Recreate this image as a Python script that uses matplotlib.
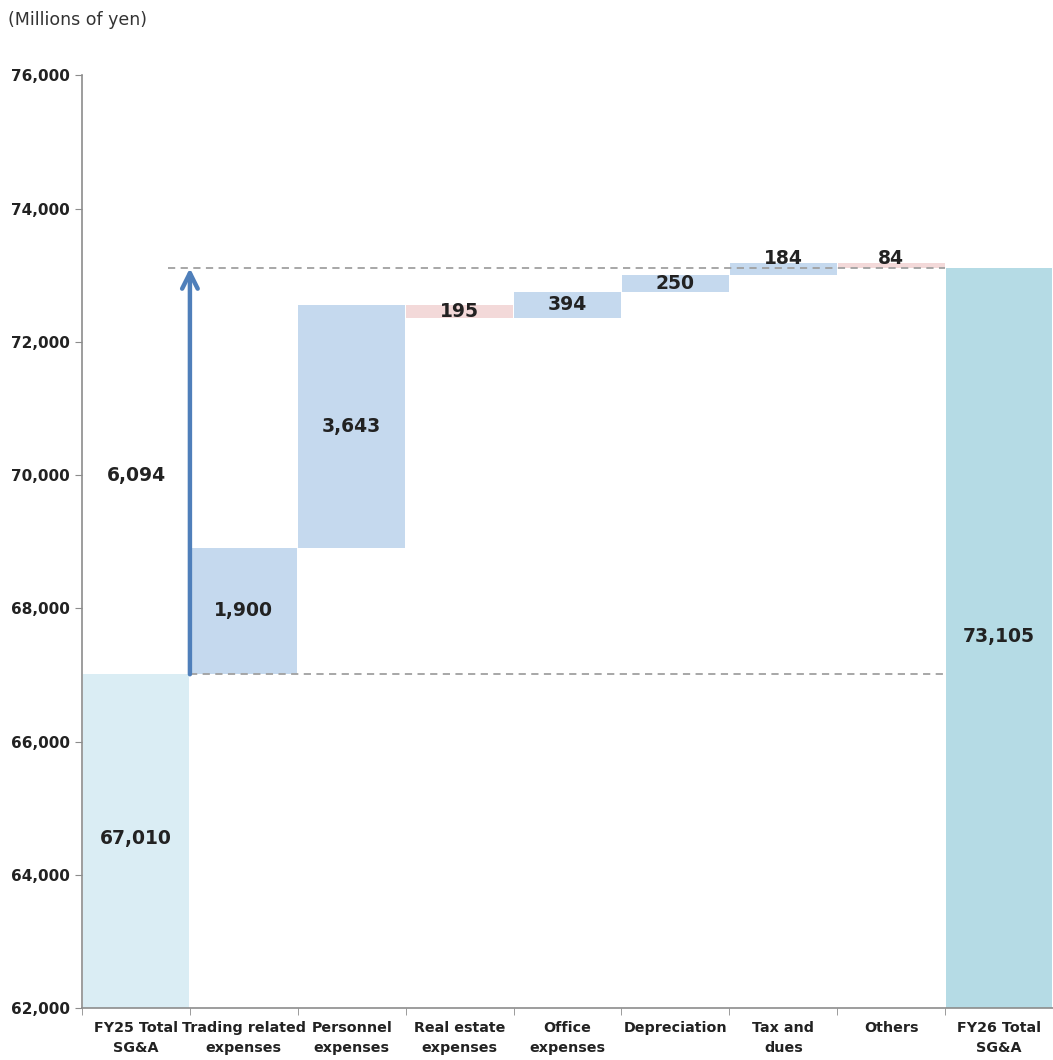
import numpy as np
import matplotlib.pyplot as plt
from matplotlib.ticker import FuncFormatter

# ---------------------------------------------------
# DATA
# ---------------------------------------------------
categories = ["FY25 Total\nSG&A", "Trading related\nexpenses", "Personnel\nexpenses",
              "Real estate\nexpenses", "Office\nexpenses", "Depreciation",
              "Tax and\ndues", "Others", "FY26 Total\nSG&A"]
start_total = 67010
changes = [1900, 3643, -195, 394, 250, 184, -84]
end_total = 73105
total_change = 6094

y_ticks = [62000, 64000, 66000, 68000, 70000, 72000, 74000, 76000]

# colours
c_start = "#daedf4"
c_end = "#b5dbe5"
c_up = "#c5d9ee"
c_down = "#f3d9d9"
c_arrow = "#4f7fba"
c_text = "#222222"

# ---------------------------------------------------
# WATERFALL GEOMETRY
# ---------------------------------------------------
bottoms = []
heights = []
colors = []
running = start_total
for ch in changes:
    if ch >= 0:
        bottoms.append(running)
        colors.append(c_up)
    else:
        bottoms.append(running + ch)
        colors.append(c_down)
    heights.append(abs(ch))
    running += ch

x = np.arange(len(categories))

fig = plt.figure(figsize=(10.53, 10.6), dpi=100)
ax = fig.add_axes([0.0779, 0.049, 0.9221, 0.880])

ax.bar(x[0], start_total - y_ticks[0], bottom=y_ticks[0], width=0.99, color=c_start)
ax.bar(x[1:-1], heights, bottom=bottoms, width=0.99, color=colors)
ax.bar(x[-1], end_total - y_ticks[0], bottom=y_ticks[0], width=0.99, color=c_end)

# dashed reference lines
ax.hlines(start_total, 0.5, 7.5, colors="#a0a0a0", linestyles=(0, (4, 3)), lw=1.3, zorder=3)
ax.hlines(end_total, 0.3, 7.5, colors="#a0a0a0", linestyles=(0, (4, 3)), lw=1.3, zorder=3)

# total change arrow
ax.annotate("", xy=(0.5, end_total), xytext=(0.5, start_total),
            arrowprops=dict(arrowstyle="->", color=c_arrow, lw=3.2,
                            mutation_scale=28, shrinkA=0, shrinkB=0), zorder=4)
ax.text(0.0, 70000, f"{total_change:,}", ha="center", va="center",
        fontsize=13.5, fontweight="bold", color=c_text)

# value labels
ax.text(x[0], 64550, f"{start_total:,}", ha="center", va="center",
        fontsize=13.5, fontweight="bold", color=c_text)
ax.text(x[-1], 67580, f"{end_total:,}", ha="center", va="center",
        fontsize=13.5, fontweight="bold", color=c_text)
for i, (b, h, ch) in enumerate(zip(bottoms, heights, changes)):
    y = b + h / 2
    if h < 190:
        y = b + h + 60   # tiny bars: label sits on top
    ax.text(x[i + 1], y, f"{abs(ch):,}", ha="center", va="center",
            fontsize=13.5, fontweight="bold", color=c_text)

# ---------------------------------------------------
# AXES STYLE
# ---------------------------------------------------
ax.set_xlim(-0.5, 8.5)
ax.set_ylim(62000, 76000)
ax.set_yticks(y_ticks)
ax.yaxis.set_major_formatter(FuncFormatter(lambda v, p: f"{int(v):,}"))
ax.set_xticks(x)
ax.set_xticklabels(categories, linespacing=1.55)
ax.set_xticks(np.arange(-0.5, 8.6, 1), minor=True)

for s in ["top", "right"]:
    ax.spines[s].set_visible(False)
for s in ["left", "bottom"]:
    ax.spines[s].set_color("#8c8c8c")
    ax.spines[s].set_linewidth(1.2)

ax.tick_params(axis="y", colors="#8c8c8c", length=5, labelsize=11, labelcolor=c_text)
ax.tick_params(axis="x", which="major", length=0, labelsize=10.3, labelcolor=c_text, pad=9)
ax.tick_params(axis="x", which="minor", length=5, color="#8c8c8c")
for lbl in ax.get_yticklabels() + ax.get_xticklabels():
    lbl.set_fontweight("bold")

fig.text(0.008, 0.981, "(Millions of yen)", fontsize=12.5, color="#333333", va="center")

fig.savefig("out.png", dpi=100)
